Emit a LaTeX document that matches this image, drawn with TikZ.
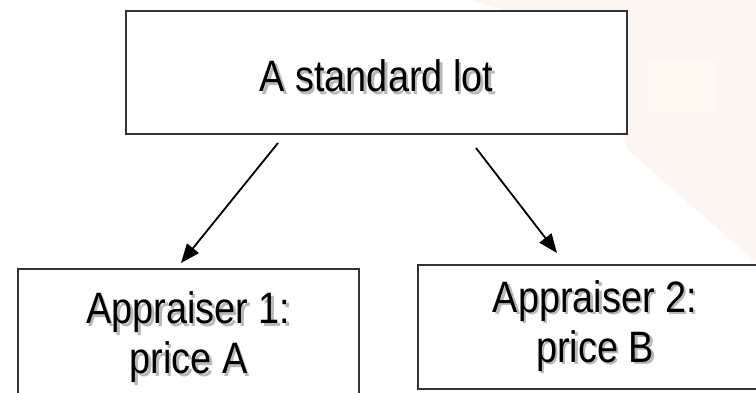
\documentclass[tikz,border=0pt]{standalone}
\usepackage{fontspec}
\setmainfont{Liberation Sans}[FakeStretch=0.86]
\usepackage{tikz}
\usetikzlibrary{arrows.meta}

\definecolor{bgtint}{RGB}{252,245,242}
\definecolor{bgwarm}{RGB}{253,249,241}

% text with a soft grey drop shadow
\newcommand{\shd}[1]{\leavevmode\rlap{\kern2.5pt\raisebox{-2.5pt}{\textcolor{black!28}{#1}}}#1}

\begin{document}
\begin{tikzpicture}[x=1pt,y=-1pt,
    box/.style={draw=black!80, line width=1.5pt, fill=white, inner sep=0pt, align=center,
                font=\fontsize{44}{50}\selectfont},
    arr/.style={line width=1.8pt, -{Triangle[length=19pt,width=15pt]}}]
            \useasboundingbox (0,0) rectangle (756,392);
            
            % Faint picture in the background (right side)
            \fill[bgtint] (470,0) -- (756,0) -- (756,262) -- (628,150) -- (600,40) -- cycle;
            \fill[bgwarm] (648,60) rectangle (716,112);
            
            % Boxes
            \node[box, minimum width=501, minimum height=123, text height=38pt, text depth=0pt]
                (lot) at (376.5,72.5) {\shd{A standard lot}};
            \node[box, minimum width=341, minimum height=139]
                (app1) at (188.5,338.5) {\shd{Appraiser 1:}\\\shd{price A}};
            \node[box, minimum width=354, minimum height=124]
                (app2) at (595,327) {\shd{Appraiser 2:}\\\shd{price B}};
            
            % Arrow ends
            \coordinate (lotL) at (278,143);
            \coordinate (app1T) at (181,263);
            \coordinate (lotR) at (476,148);
            \coordinate (app2T) at (557,253);
            
            % Arrows from the lot to the appraisers
            \draw[arr] (lotL) -- (app1T);
            \draw[arr] (lotR) -- (app2T);
        \end{tikzpicture}
\end{document}
